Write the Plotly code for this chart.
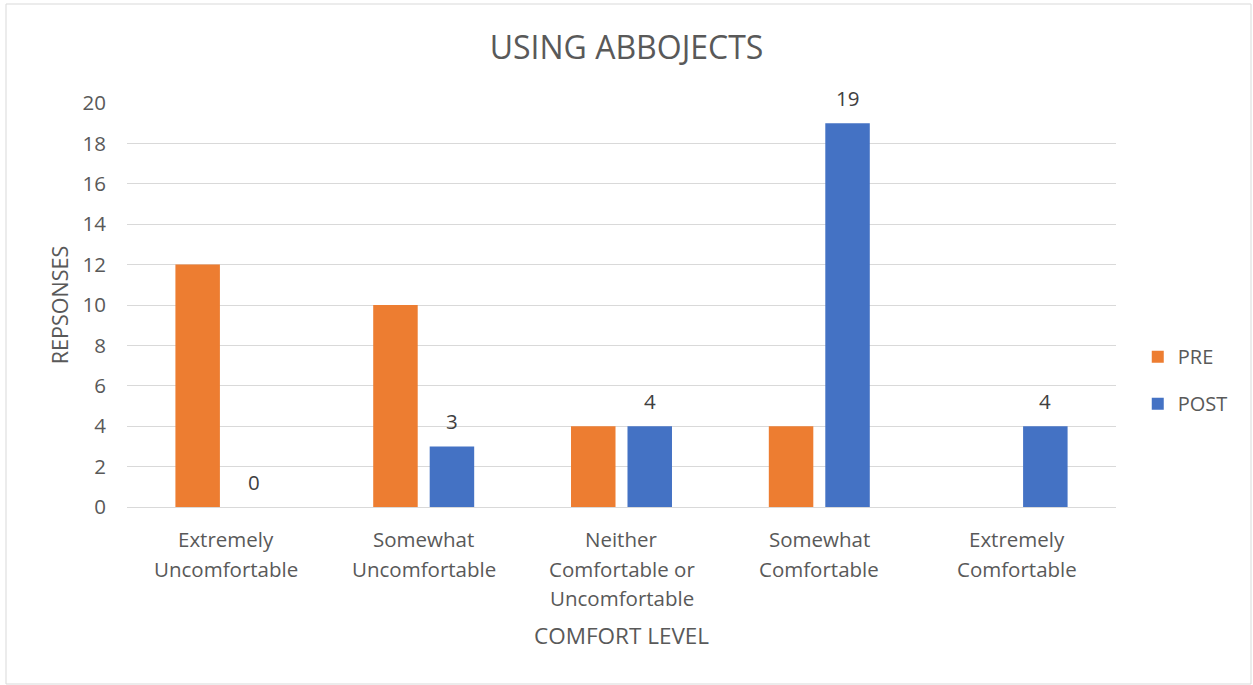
import plotly.graph_objects as go

categories = ["Extremely<br>Uncomfortable", "Somewhat<br>Uncomfortable",
              "Neither<br>Comfortable or<br>Uncomfortable", "Somewhat<br>Comfortable",
              "Extremely<br>Comfortable"]
pre_values = [12, 10, 4, 4, 0]
post_values = [0, 3, 4, 19, 4]
y_ticks = [0, 2, 4, 6, 8, 10, 12, 14, 16, 18, 20]

FONT = "Open Sans"
TXT = "#595959"
TICK = 20.5

fig = go.Figure()
fig.add_trace(go.Bar(name="PRE", x=categories, y=pre_values, marker_color="#ED7D31",
                     marker_line_width=0, legendgroup="a"))
fig.add_trace(go.Bar(name="POST", x=categories, y=post_values, marker_color="#4472C4",
                     marker_line_width=0, legendgroup="b"))

# data labels above POST bars
for c, v in zip(categories, post_values):
    fig.add_annotation(x=c, y=v, xref="x", yref="y", text=str(v), showarrow=False,
                       xshift=28, yshift=25, font=dict(family=FONT, size=TICK, color="#404040"))

# category labels (one annotation per line for Excel-like line spacing)
for c in categories:
    for i, line in enumerate(c.split("<br>")):
        fig.add_annotation(x=c, y=0, xref="x", yref="paper", text=line, showarrow=False,
                           yanchor="middle", yshift=-(32 + i * 29.5),
                           font=dict(family=FONT, size=TICK, color=TXT))

# x axis title
fig.add_annotation(x=0.5, y=0, xref="paper", yref="paper", text="COMFORT LEVEL",
                   showarrow=False, yanchor="middle", yshift=-128,
                   font=dict(family=FONT, size=22.5, color=TXT))

# chart border
fig.add_shape(type="rect", xref="paper", yref="paper",
              x0=(6 - 127) / 989, x1=(1251 - 127) / 989,
              y0=(507 - 684) / 404, y1=(507 - 4) / 404,
              line=dict(color="#D9D9D9", width=1), layer="below")

fig.update_layout(
    width=1253, height=685,
    margin=dict(l=127, r=137, t=103, b=178),
    paper_bgcolor="white", plot_bgcolor="white",
    barmode="group", bargap=0.429, bargroupgap=0.212,
    title=dict(text="USING ABBOJECTS", x=0.5, xanchor="center", y=1 - 48 / 685, yanchor="middle",
               font=dict(family=FONT, size=32, color=TXT)),
    font=dict(family=FONT, size=TICK, color=TXT),
    legend=dict(x=1.022, xanchor="left", y=0.314, yanchor="middle",
                font=dict(family=FONT, size=20, color=TXT), tracegroupgap=18,
                bgcolor="rgba(0,0,0,0)"),
    showlegend=True,
)
fig.update_xaxes(showgrid=False, showline=True, linecolor="#D9D9D9", linewidth=1,
                 ticks="", showticklabels=False)
fig.update_yaxes(range=[0, 20], tickvals=y_ticks, showgrid=True, gridcolor="#D9D9D9",
                 gridwidth=1, zeroline=False, showline=False, ticks="",
                 ticklabelstandoff=20,
                 tickfont=dict(family=FONT, size=TICK, color=TXT),
                 title=dict(text="REPSONSES", standoff=8,
                            font=dict(family=FONT, size=21.5, color=TXT)))

fig.write_html("out.html")
